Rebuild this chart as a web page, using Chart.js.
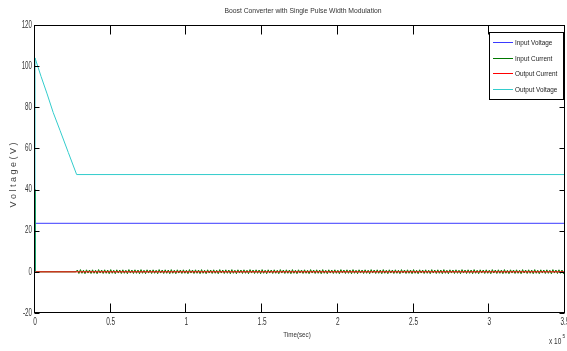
<!DOCTYPE html>
<html><head><meta charset="utf-8">
<script src="https://cdn.jsdelivr.net/npm/chart.js@4/dist/chart.umd.min.js"></script>
<style>html,body{margin:0;padding:0;background:#fff;} #wrap{width:567px;height:351px;}</style>
</head><body><div id="wrap"><canvas id="c" width="567" height="351"></canvas></div>
<script>
const FONT = "'Liberation Sans',Arial,Helvetica,sans-serif";
const titleText = 'Boost Converter with Single Pulse Width Modulation';
const xTitle = 'Time(sec)';
const yTitle = 'V o l t a g e ( V )';
const xExponentBase = 'x 10';
const xExponent = '5';
const seriesNames = ['Input Voltage', 'Input Current', 'Output Current', 'Output Voltage'];
const seriesColors = ['#3a3aff', '#007800', '#ff0000', '#33cccc'];
const xRange = [0, 3.5];
const yRange = [-20, 120];
const xStep = 0.5;
const yStep = 20;

// Input Voltage
const inVoltT = [0, 3.5];
const inVoltV = [23.6, 23.6];
// Output Current
const outCurT = [0, 3.5];
const outCurV = [0, 0];
// Output Voltage
const outVoltT = [0, 0, 0.04, 0.08, 0.12, 0.165, 0.22, 0.275, 3.5];
const outVoltV = [0, 104, 95, 86.5, 77.5, 68.8, 58, 47.3, 47.3];
// Input Current (start-up spike, then switching ripple)
const inCurT = [0, 0, 0.004, 0.27, 0.28, 0.29,
 0.30,0.31,0.32,0.33,0.34,0.35,0.36,0.37,0.38,0.39,
 0.40,0.41,0.42,0.43,0.44,0.45,0.46,0.47,0.48,0.49,
 0.50,0.51,0.52,0.53,0.54,0.55,0.56,0.57,0.58,0.59,
 0.60,0.61,0.62,0.63,0.64,0.65,0.66,0.67,0.68,0.69,
 0.70,0.71,0.72,0.73,0.74,0.75,0.76,0.77,0.78,0.79,
 0.80,0.81,0.82,0.83,0.84,0.85,0.86,0.87,0.88,0.89,
 0.90,0.91,0.92,0.93,0.94,0.95,0.96,0.97,0.98,0.99,
 1.00,1.01,1.02,1.03,1.04,1.05,1.06,1.07,1.08,1.09,
 1.10,1.11,1.12,1.13,1.14,1.15,1.16,1.17,1.18,1.19,
 1.20,1.21,1.22,1.23,1.24,1.25,1.26,1.27,1.28,1.29,
 1.30,1.31,1.32,1.33,1.34,1.35,1.36,1.37,1.38,1.39,
 1.40,1.41,1.42,1.43,1.44,1.45,1.46,1.47,1.48,1.49,
 1.50,1.51,1.52,1.53,1.54,1.55,1.56,1.57,1.58,1.59,
 1.60,1.61,1.62,1.63,1.64,1.65,1.66,1.67,1.68,1.69,
 1.70,1.71,1.72,1.73,1.74,1.75,1.76,1.77,1.78,1.79,
 1.80,1.81,1.82,1.83,1.84,1.85,1.86,1.87,1.88,1.89,
 1.90,1.91,1.92,1.93,1.94,1.95,1.96,1.97,1.98,1.99,
 2.00,2.01,2.02,2.03,2.04,2.05,2.06,2.07,2.08,2.09,
 2.10,2.11,2.12,2.13,2.14,2.15,2.16,2.17,2.18,2.19,
 2.20,2.21,2.22,2.23,2.24,2.25,2.26,2.27,2.28,2.29,
 2.30,2.31,2.32,2.33,2.34,2.35,2.36,2.37,2.38,2.39,
 2.40,2.41,2.42,2.43,2.44,2.45,2.46,2.47,2.48,2.49,
 2.50,2.51,2.52,2.53,2.54,2.55,2.56,2.57,2.58,2.59,
 2.60,2.61,2.62,2.63,2.64,2.65,2.66,2.67,2.68,2.69,
 2.70,2.71,2.72,2.73,2.74,2.75,2.76,2.77,2.78,2.79,
 2.80,2.81,2.82,2.83,2.84,2.85,2.86,2.87,2.88,2.89,
 2.90,2.91,2.92,2.93,2.94,2.95,2.96,2.97,2.98,2.99,
 3.00,3.01,3.02,3.03,3.04,3.05,3.06,3.07,3.08,3.09,
 3.10,3.11,3.12,3.13,3.14,3.15,3.16,3.17,3.18,3.19,
 3.20,3.21,3.22,3.23,3.24,3.25,3.26,3.27,3.28,3.29,
 3.30,3.31,3.32,3.33,3.34,3.35,3.36,3.37,3.38,3.39,
 3.40,3.41,3.42,3.43,3.44,3.45,3.46,3.47,3.48,3.49,
 3.50];
const inCurV = [0, 40, 0, 0, 0.9, -0.8,
 1.1,-0.7,0.8,-0.9,1.0,-0.6,0.9,-0.8,1.0,-0.7,
 0.8,-0.9,1.1,-0.6,0.9,-0.8,1.0,-0.7,0.9,-0.9,
 1.1,-0.7,0.8,-0.9,1.0,-0.6,0.9,-0.8,1.0,-0.7,
 0.8,-0.9,1.1,-0.6,0.9,-0.8,1.0,-0.7,0.9,-0.9,
 1.1,-0.7,0.8,-0.9,1.0,-0.6,0.9,-0.8,1.0,-0.7,
 0.8,-0.9,1.1,-0.6,0.9,-0.8,1.0,-0.7,0.9,-0.9,
 1.1,-0.7,0.8,-0.9,1.0,-0.6,0.9,-0.8,1.0,-0.7,
 0.8,-0.9,1.1,-0.6,0.9,-0.8,1.0,-0.7,0.9,-0.9,
 1.1,-0.7,0.8,-0.9,1.0,-0.6,0.9,-0.8,1.0,-0.7,
 0.8,-0.9,1.1,-0.6,0.9,-0.8,1.0,-0.7,0.9,-0.9,
 1.1,-0.7,0.8,-0.9,1.0,-0.6,0.9,-0.8,1.0,-0.7,
 0.8,-0.9,1.1,-0.6,0.9,-0.8,1.0,-0.7,0.9,-0.9,
 1.1,-0.7,0.8,-0.9,1.0,-0.6,0.9,-0.8,1.0,-0.7,
 0.8,-0.9,1.1,-0.6,0.9,-0.8,1.0,-0.7,0.9,-0.9,
 1.1,-0.7,0.8,-0.9,1.0,-0.6,0.9,-0.8,1.0,-0.7,
 0.8,-0.9,1.1,-0.6,0.9,-0.8,1.0,-0.7,0.9,-0.9,
 1.1,-0.7,0.8,-0.9,1.0,-0.6,0.9,-0.8,1.0,-0.7,
 0.8,-0.9,1.1,-0.6,0.9,-0.8,1.0,-0.7,0.9,-0.9,
 1.1,-0.7,0.8,-0.9,1.0,-0.6,0.9,-0.8,1.0,-0.7,
 0.8,-0.9,1.1,-0.6,0.9,-0.8,1.0,-0.7,0.9,-0.9,
 1.1,-0.7,0.8,-0.9,1.0,-0.6,0.9,-0.8,1.0,-0.7,
 0.8,-0.9,1.1,-0.6,0.9,-0.8,1.0,-0.7,0.9,-0.9,
 1.1,-0.7,0.8,-0.9,1.0,-0.6,0.9,-0.8,1.0,-0.7,
 0.8,-0.9,1.1,-0.6,0.9,-0.8,1.0,-0.7,0.9,-0.9,
 1.1,-0.7,0.8,-0.9,1.0,-0.6,0.9,-0.8,1.0,-0.7,
 0.8,-0.9,1.1,-0.6,0.9,-0.8,1.0,-0.7,0.9,-0.9,
 1.1,-0.7,0.8,-0.9,1.0,-0.6,0.9,-0.8,1.0,-0.7,
 0.8,-0.9,1.1,-0.6,0.9,-0.8,1.0,-0.7,0.9,-0.9,
 1.1,-0.7,0.8,-0.9,1.0,-0.6,0.9,-0.8,1.0,-0.7,
 0.8,-0.9,1.1,-0.6,0.9,-0.8,1.0,-0.7,0.9,-0.9,
 1.1,-0.7,0.8,-0.9,1.0,-0.6,0.9,-0.8,1.0,-0.7,
 0.8,-0.9,1.1,-0.6,0.9,-0.8,1.0,-0.7,0.9,-0.9,
 1.0];

function pts(t, v) { return t.map((x, i) => ({x: x, y: v[i]})); }

const seriesT = [inVoltT, inCurT, outCurT, outVoltT];
const seriesV = [inVoltV, inCurV, outCurV, outVoltV];
const drawOrder = [4, 3, 2, 1];

const datasets = seriesNames.map((name, i) => ({
  label: name,
  data: pts(seriesT[i], seriesV[i]),
  borderColor: seriesColors[i],
  backgroundColor: seriesColors[i],
  borderWidth: 1,
  pointRadius: 0,
  tension: 0,
  fill: false,
  order: drawOrder[i]
}));

function narrowText(ctx, str, x, y, size, sx, align, baseline, color) {
  ctx.save();
  ctx.font = size + 'px ' + FONT;
  ctx.fillStyle = color || '#333';
  ctx.textAlign = align;
  ctx.textBaseline = baseline;
  ctx.translate(x, y);
  ctx.scale(sx, 1);
  ctx.fillText(str, 0, 0);
  ctx.restore();
}

const decor = {
  id: 'decor',
  afterDraw(chart) {
    const ctx = chart.ctx;
    const a = chart.chartArea;
    const xs = chart.scales.x, ys = chart.scales.y;
    const L = Math.round(a.left) - 0.5, R = Math.round(a.right) - 0.5;
    const T = Math.round(a.top) + 0.5, B = Math.round(a.bottom) - 0.5;
    ctx.save();
    ctx.strokeStyle = '#000';
    ctx.lineWidth = 1;
    ctx.strokeRect(L, T, R - L, B - T);
    ctx.beginPath();
    xs.ticks.forEach(t => {
      const px = Math.round(xs.getPixelForValue(t.value)) - 0.5;
      ctx.moveTo(px, B); ctx.lineTo(px, B - 9);
      ctx.moveTo(px, T); ctx.lineTo(px, T + 9);
    });
    ys.ticks.forEach(t => {
      const py = Math.round(ys.getPixelForValue(t.value)) + 0.5;
      ctx.moveTo(L, py); ctx.lineTo(L + 5, py);
      ctx.moveTo(R, py); ctx.lineTo(R - 5, py);
    });
    ctx.stroke();
    ctx.restore();

    // tick labels
    xs.ticks.forEach(t => {
      narrowText(ctx, String(t.value), xs.getPixelForValue(t.value), 322, 10, 0.65, 'center', 'middle');
    });
    ys.ticks.forEach(t => {
      narrowText(ctx, String(t.value), 32, ys.getPixelForValue(t.value), 10, 0.62, 'right', 'middle');
    });

    // title
    narrowText(ctx, titleText, (a.left + a.right) / 2 + 3, 11, 8, 0.85, 'center', 'middle');
    // x title
    narrowText(ctx, xTitle, 297, 335, 8, 0.78, 'center', 'middle');

    // y title
    ctx.save();
    ctx.translate(14, 175);
    ctx.rotate(-Math.PI / 2);
    ctx.font = '9px ' + FONT;
    ctx.fillStyle = '#444';
    ctx.textAlign = 'center';
    ctx.textBaseline = 'middle';
    ctx.fillText(yTitle, 0, 0);
    ctx.restore();

    // exponent
    narrowText(ctx, xExponentBase, 549, 344, 9, 0.72, 'left', 'alphabetic');
    narrowText(ctx, xExponent, 562.5, 338, 6, 0.8, 'left', 'alphabetic');

    // legend
    ctx.save();
    const bx = 489.5, by = 32.5, bw = 74, bh = 67;
    ctx.fillStyle = '#fff';
    ctx.fillRect(bx, by, bw, bh);
    ctx.strokeStyle = '#000';
    ctx.lineWidth = 1;
    ctx.strokeRect(bx, by, bw, bh);
    seriesNames.forEach((n, i) => {
      const yy = Math.round(41.7 + i * 15.8) + 0.5;
      ctx.strokeStyle = seriesColors[i];
      ctx.beginPath(); ctx.moveTo(493, yy); ctx.lineTo(513, yy); ctx.stroke();
      narrowText(ctx, n, 515, yy, 8, 0.8, 'left', 'middle', '#222');
    });
    ctx.restore();
  }
};

new Chart(document.getElementById('c'), {
  type: 'line',
  data: { datasets: datasets },
  options: {
    responsive: false,
    animation: false,
    devicePixelRatio: 1,
    layout: { padding: { top: 25, right: 2, left: 0, bottom: 0 } },
    plugins: { legend: { display: false }, tooltip: { enabled: false }, title: { display: false } },
    scales: {
      x: {
        type: 'linear', min: xRange[0], max: xRange[1],
        grid: { display: false, drawTicks: false },
        border: { display: false },
        ticks: { stepSize: xStep, autoSkip: false, maxRotation: 0, display: false },
        title: { display: false },
        afterFit(s) { s.height = 38; s.paddingLeft = 0; s.paddingRight = 0; }
      },
      y: {
        type: 'linear', min: yRange[0], max: yRange[1],
        grid: { display: false, drawTicks: false },
        border: { display: false },
        ticks: { stepSize: yStep, display: false },
        title: { display: false },
        afterFit(s) { s.width = 35; s.paddingTop = 0; s.paddingBottom = 0; }
      }
    }
  },
  plugins: [decor]
});
</script>
</body></html>
